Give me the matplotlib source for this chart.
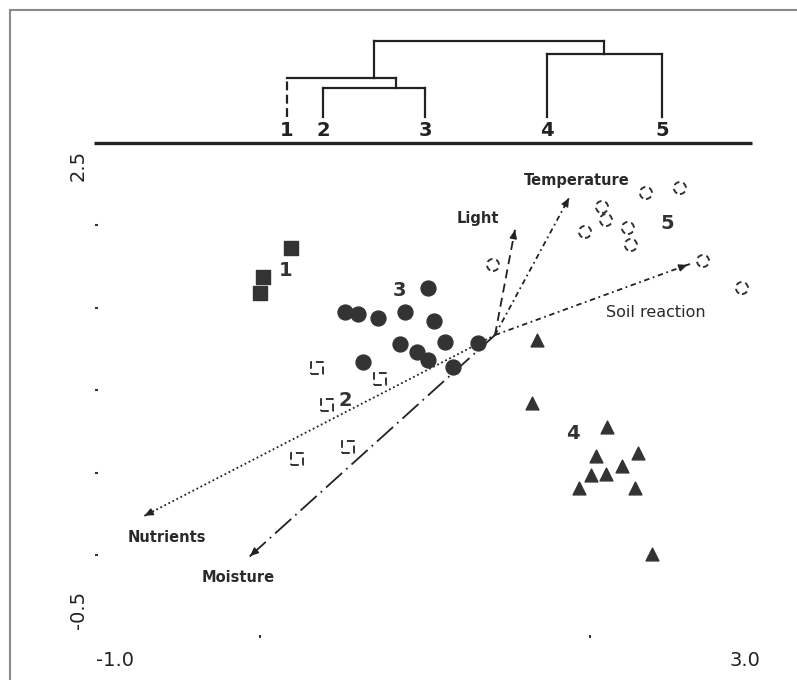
import matplotlib
matplotlib.use("Agg")
import matplotlib.pyplot as plt
from matplotlib.lines import Line2D

# ---------------- data ----------------
# cluster 1 (filled squares)
g1_x = [0.188, 0.018, 0.000]
g1_y = [1.861, 1.685, 1.588]
# cluster 2 (open squares)
g2_x = [0.345, 0.727, 0.406, 0.533, 0.224]
g2_y = [1.133, 1.067, 0.909, 0.655, 0.582]
# cluster 3 (filled circles)
g3_x = [0.515, 0.594, 0.715, 0.879, 1.018, 1.055, 0.848, 0.952, 1.018, 1.121, 1.321, 0.624, 1.170]
g3_y = [1.473, 1.461, 1.436, 1.473, 1.618, 1.418, 1.279, 1.230, 1.182, 1.291, 1.285, 1.170, 1.139]
# cluster 4 (filled triangles)
g4_x = [1.679, 1.648, 2.103, 2.036, 2.291, 2.194, 2.006, 2.097, 1.933, 2.273, 2.376]
g4_y = [1.303, 0.921, 0.776, 0.600, 0.618, 0.539, 0.485, 0.491, 0.406, 0.406, 0.006]
# cluster 5 (open circles)
g5_x = [2.339, 2.545, 2.073, 2.097, 1.970, 2.230, 2.248, 2.685, 2.921, 1.412]
g5_y = [2.194, 2.224, 2.109, 2.030, 1.958, 1.982, 1.879, 1.782, 1.618, 1.758]

cluster_names = ["1", "2", "3", "4", "5"]
cluster_label_x = [0.158, 0.515, 0.848, 1.897, 2.467]
cluster_label_y = [1.727, 0.939, 1.606, 0.739, 2.012]

# environmental vectors
arrow_origin = (1.424, 1.333)
env_names = ["Temperature", "Light", "Soil reaction", "Nutrients", "Moisture"]
env_end_x = [1.873, 1.545, 2.606, -0.715, -0.073]
env_end_y = [2.164, 1.970, 1.764, 0.230, -0.018]
env_label_x = [1.921, 1.321, 2.400, -0.564, -0.133]
env_label_y = [2.267, 2.042, 1.467, 0.109, -0.139]
env_styles = [(0, (3, 2, 1, 2)), (0, (5, 3)), (0, (3, 2, 1, 2)), (0, (1, 1.5)), (0, (12, 3, 1, 3))]
env_bold = [True, True, False, True, True]

# axis range labels
x_range_labels = ["-1.0", "3.0"]
y_range_labels = ["2.5", "-0.5"]
x_ticks = [0.0, 2.0]
y_ticks = [0.0, 0.5, 1.0, 1.5, 2.0]

# dendrogram (leaf positions share the x scale of the ordination)
leaf_names = ["1", "2", "3", "4", "5"]
leaf_x = [0.164, 0.382, 1.000, 1.739, 2.436]
leaf_top = 25.5
# merges: (left stem x, right stem x, merge height)
merges = [
    (0.382, 1.000, 54.5),   # 2 + 3
    (0.164, 0.824, 64.5),   # 1 + (2,3)
    (1.739, 2.436, 88.5),   # 4 + 5
    (0.691, 2.085, 101.5),  # root
]

# ---------------- figure ----------------
W, H = 797, 680
fig = plt.figure(figsize=(W / 100, H / 100), dpi=100)
fig.patch.set_facecolor("white")

dark = "#333333"
narrow = ["Liberation Sans Narrow", "DejaVu Sans"]

# frame (top and left edges visible)
fig.add_artist(Line2D([10 / W, 1.0], [1 - 10 / H, 1 - 10 / H], color="#8a8a8a", lw=1.5))
fig.add_artist(Line2D([10 / W, 10 / W], [1 - 10 / H, 0.0], color="#8a8a8a", lw=1.5))

# main ordination axes
ax = fig.add_axes([95 / W, (H - 637.5) / H, 660 / W, 495 / H])
ax.set_xlim(-1.0, 3.0)
ax.set_ylim(-0.5, 2.5)
for s in ax.spines.values():
    s.set_visible(False)
ax.set_xticks(x_ticks)
ax.set_yticks(y_ticks)
ax.tick_params(direction="in", length=2.5, width=1.5, color=dark,
               labelbottom=False, labelleft=False)
ax.patch.set_alpha(0)

# arrows
for name, ex, ey, lx, ly, ls, b in zip(env_names, env_end_x, env_end_y,
                                       env_label_x, env_label_y, env_styles, env_bold):
    ax.plot([arrow_origin[0], ex], [arrow_origin[1], ey], color="#222222",
            lw=1.3, linestyle=ls, zorder=2)
    ax.annotate("", xy=(ex, ey), xytext=(arrow_origin[0] + 0.97 * (ex - arrow_origin[0]),
                                         arrow_origin[1] + 0.97 * (ey - arrow_origin[1])),
                arrowprops=dict(arrowstyle="-|>,head_length=0.5,head_width=0.22",
                                color="#222222", lw=1.0), zorder=3)
    ax.text(lx, ly, name, ha="center", va="center",
            fontsize=10.5 if b else 11.5,
            fontweight="bold" if b else "medium", color="#2a2a2a")

# points
ax.scatter(g1_x, g1_y, marker="s", s=110, color=dark, zorder=4)
ax.scatter(g2_x, g2_y, marker="s", s=70, facecolors="none", edgecolors=dark,
           linewidths=1.4, linestyles=(0, (4, 2)), zorder=4)
ax.scatter(g3_x, g3_y, marker="o", s=115, color=dark, zorder=4)
ax.scatter(g4_x, g4_y, marker="^", s=85, color=dark, zorder=4)
ax.scatter(g5_x, g5_y, marker="o", s=75, facecolors="none", edgecolors=dark,
           linewidths=1.4, linestyles=(0, (3, 2)), zorder=4)

for name, lx, ly in zip(cluster_names, cluster_label_x, cluster_label_y):
    ax.text(lx, ly, name, ha="center", va="center", fontsize=14,
            color=dark, family=narrow, fontweight="bold")

# axis range labels
ax.text(-0.879, -0.64, x_range_labels[0], ha="center", va="center",
        fontsize=14, color="#222222", family=narrow, clip_on=False)
ax.text(2.939, -0.64, x_range_labels[1], ha="center", va="center",
        fontsize=14, color="#222222", family=narrow, clip_on=False)
ax.text(-1.103, 2.36, y_range_labels[0], ha="center", va="center", rotation=90,
        fontsize=14, color="#222222", family=narrow, clip_on=False)
ax.text(-1.103, -0.33, y_range_labels[1], ha="center", va="center", rotation=90,
        fontsize=14, color="#222222", family=narrow, clip_on=False)

# dendrogram axes
dax = fig.add_axes([95 / W, (H - 142.5) / H, 660 / W, 142.5 / H])
dax.set_xlim(-1.0, 3.0)
dax.set_ylim(0, 142.5)
dax.axis("off")
dax.patch.set_alpha(0)

dax.plot([-1.006, 2.982], [0, 0], color="#222222", lw=2.4,
         solid_capstyle="butt", clip_on=False)
for a, b, h in merges:
    dax.plot([a, b], [h, h], color="#222222", lw=1.6)
# vertical stems
stems = [
    (leaf_x[1], leaf_top, 54.5, "-"), (leaf_x[2], leaf_top, 54.5, "-"),
    (leaf_x[0], leaf_top, 64.5, (0, (4, 2))), (0.824, 54.5, 64.5, "-"),
    (leaf_x[3], leaf_top, 88.5, "-"), (leaf_x[4], leaf_top, 88.5, "-"),
    (0.691, 64.5, 101.5, "-"), (2.085, 88.5, 101.5, "-"),
]
for x, y0, y1, ls in stems:
    dax.plot([x, x], [y0, y1], color="#222222", lw=1.6, linestyle=ls)
for name, x in zip(leaf_names, leaf_x):
    dax.text(x, 12.5, name, ha="center", va="center", fontsize=14,
             color="#222222", family=narrow, fontweight="bold")

fig.savefig("out.png", dpi=100, facecolor="white")
